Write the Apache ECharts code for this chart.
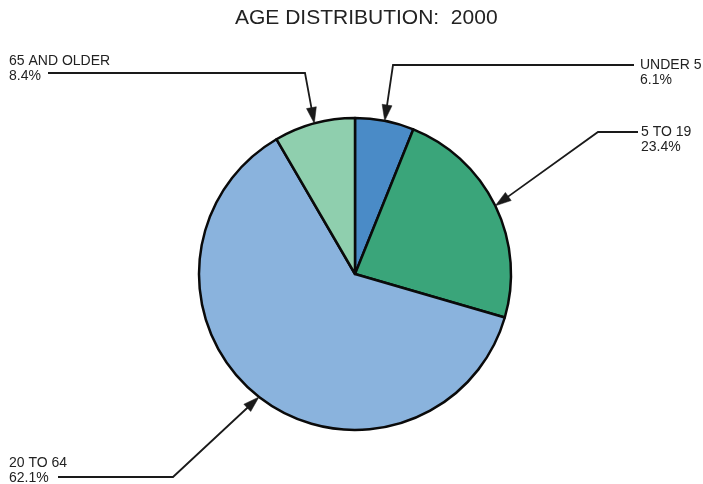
<!DOCTYPE html>
<html>
<head>
<meta charset="utf-8">
<script src="https://cdn.jsdelivr.net/npm/echarts@6/dist/echarts.min.js"></script>
<style>
html,body{margin:0;padding:0;background:#fff;}
#chart{width:703px;height:484px;}
</style>
</head>
<body>
<div id="chart"></div>
<script>
// ---- data ----
const chartTitle = 'AGE DISTRIBUTION:  2000';
const categories = ['UNDER 5', '5 TO 19', '20 TO 64', '65 AND OLDER'];
const shares = [6.1, 23.4, 62.1, 8.4];

// ---- styling / layout (not data) ----
const sliceColors = ['#4a8bc7', '#3aa57a', '#8ab3dd', '#8fcfae'];
const FONT = "'Liberation Sans', Arial, Helvetica, sans-serif";
// label text box top-left, leader line end (near text) and bend
const labelBox = [[640, 58], [641, 124.5], [9, 455.5], [9, 54]];
const leaderEnd = [[634, 65], [638, 132], [58, 477], [48, 73]];
const leaderBend = [[393, 65], [598, 132], [173, 477], [305, 73]];
const ARROW_LEN = 16, ARROW_HALF = 5;

const arrows = {};

const chart = echarts.init(document.getElementById('chart'), null, {renderer: 'canvas'});

function layoutLabel(params) {
  const i = params.dataIndex;
  const tip = params.labelLinePoints ? params.labelLinePoints[0] : leaderBend[i];
  const bend = leaderBend[i];
  const dx = tip[0] - bend[0], dy = tip[1] - bend[1];
  const len = Math.sqrt(dx * dx + dy * dy) || 1;
  const ux = dx / len, uy = dy / len;
  const bx = tip[0] - ux * ARROW_LEN, by = tip[1] - uy * ARROW_LEN;
  const nx = -uy, ny = ux;
  arrows[i] = [
    [tip[0], tip[1]],
    [bx + nx * ARROW_HALF, by + ny * ARROW_HALF],
    [bx - nx * ARROW_HALF, by - ny * ARROW_HALF]
  ];
  return {
    x: labelBox[i][0],
    y: labelBox[i][1],
    align: 'left',
    verticalAlign: 'top',
    moveOverlap: null,
    hideOverlap: false,
    labelLinePoints: [[bx + ux * 2, by + uy * 2], bend.slice(), leaderEnd[i].slice()]
  };
}

const option = {
  animation: false,
  backgroundColor: '#ffffff',
  title: {
    text: chartTitle,
    left: 235,
    top: 8,
    padding: 0,
    textStyle: {fontFamily: FONT, fontSize: 21, fontWeight: 'normal', color: '#222'}
  },
  series: [{
    type: 'pie',
    center: [355, 274],
    radius: 156,
    startAngle: 90,
    clockwise: true,
    avoidLabelOverlap: false,
    data: categories.map((c, i) => ({
      name: c,
      value: shares[i],
      itemStyle: {color: sliceColors[i]}
    })),
    itemStyle: {borderColor: '#0a0a0a', borderWidth: 2.5},
    emphasis: {disabled: true},
    label: {
      show: true,
      position: 'outside',
      formatter: '{b}\n{c}%',
      fontFamily: FONT,
      fontSize: 14,
      lineHeight: 15,
      color: '#222'
    },
    labelLine: {
      show: true,
      length: 10,
      length2: 10,
      lineStyle: {color: '#1a1a1a', width: 1.8}
    },
    labelLayout: layoutLabel
  }]
};

chart.setOption(option);

chart.setOption({
  graphic: Object.keys(arrows).map(k => ({
    type: 'polygon',
    silent: true,
    z: 100,
    shape: {points: arrows[k]},
    style: {fill: '#1a1a1a', stroke: '#1a1a1a', lineWidth: 0.5}
  }))
});
</script>
</body>
</html>
